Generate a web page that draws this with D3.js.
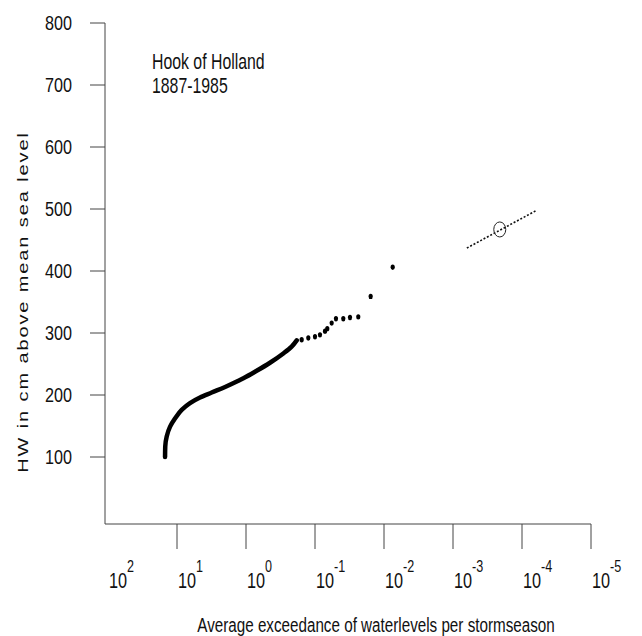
<!DOCTYPE html>
<html>
<head>
<meta charset="utf-8">
<script src="https://cdn.jsdelivr.net/npm/d3@7"></script>
<style>
  body { margin: 0; background: #fff; }
  text { font-family: "Liberation Sans", Arial, sans-serif; fill: #111; }
</style>
</head>
<body>
<div id="chart"></div>
<script>
// observed exceedance frequencies (per storm season) and high water levels (cm)
const curveFreq = [14.9, 14.8, 14.1, 12.6, 10.7, 8.55, 6.48, 4.64, 3.14, 2.01, 1.29, 1.09, 0.70, 0.449, 0.288, 0.218, 0.184];
const curveHW   = [100, 117, 133, 149, 162, 176, 187, 196, 204, 213, 223, 227, 239, 252, 267, 278, 288];

const dotFreq = [0.156, 0.125, 0.100, 0.0847, 0.0716, 0.0664, 0.0573, 0.0497, 0.0389, 0.0311, 0.0236, 0.0156, 0.00748];
const dotHW   = [289, 292, 294, 297, 303, 307, 316, 323, 323, 325, 326, 359, 406];

// extrapolated line and design point
const extraFreq = [6.3e-4, 6.1e-5];
const extraHW   = [437, 498];
const designFreq = 2.1e-4;
const designHW = 467;

const yTicks = [100, 200, 300, 400, 500, 600, 700, 800];
const xExponents = [2, 1, 0, -1, -2, -3, -4, -5];

const titleLines = ['Hook of Holland', '1887-1985'];
const xTitle = 'Average exceedance of waterlevels per stormseason';
const yTitle = 'HW in cm above mean sea level';

const width = 642, height = 636;

const svg = d3.select('#chart').append('svg')
  .attr('width', width)
  .attr('height', height);

const x = d3.scaleLog().domain([1e2, 1e-5]).range([108, 591]);
const y = d3.scaleLinear().domain([0, 800]).range([519, 23]);

const axisColor = '#444';

// y axis
svg.append('line')
  .attr('x1', 105).attr('x2', 105)
  .attr('y1', y(800)).attr('y2', 524)
  .attr('stroke', axisColor);

svg.selectAll('.ytick')
  .data(yTicks)
  .enter()
  .append('line')
  .attr('x1', 90).attr('x2', 105)
  .attr('y1', d => y(d)).attr('y2', d => y(d))
  .attr('stroke', axisColor);

svg.selectAll('.ylabel')
  .data(yTicks)
  .enter()
  .append('text')
  .attr('transform', d => 'translate(72,' + (y(d) + 7) + ') scale(0.77,1)')
  .attr('text-anchor', 'end')
  .attr('font-size', '21px')
  .text(d => d);

// x axis
svg.append('line')
  .attr('x1', 105).attr('x2', x(1e-5))
  .attr('y1', 524).attr('y2', 524)
  .attr('stroke', axisColor);

svg.selectAll('.xtick')
  .data(xExponents.filter(e => e < 2))
  .enter()
  .append('line')
  .attr('x1', d => x(Math.pow(10, d))).attr('x2', d => x(Math.pow(10, d)))
  .attr('y1', 524).attr('y2', 549)
  .attr('stroke', axisColor);

const xLabels = svg.selectAll('.xlabel')
  .data(xExponents)
  .enter()
  .append('text')
  .attr('transform', d => 'translate(' + (x(Math.pow(10, d)) + 1) + ',588) scale(0.74,1)')
  .attr('font-size', '22px');
xLabels.append('tspan').text('10');
xLabels.append('tspan')
  .attr('dy', -16)
  .attr('font-size', '17px')
  .text(d => d);

// titles
svg.selectAll('.title')
  .data(titleLines)
  .enter()
  .append('text')
  .attr('transform', (d, i) => 'translate(152,' + (69 + i * 24) + ') scale(0.72,1)')
  .attr('font-size', '22px')
  .text(d => d);

svg.append('text')
  .attr('transform', 'translate(376,632) scale(0.725,1)')
  .attr('text-anchor', 'middle')
  .attr('font-size', '21px')
  .text(xTitle);

svg.append('text')
  .attr('transform', 'translate(28,302) scale(0.75,1) rotate(-90)')
  .attr('text-anchor', 'middle')
  .attr('font-size', '20px')
  .attr('letter-spacing', '1.9px')
  .text(yTitle);

// dense part of the observations
const curve = curveFreq.map((f, i) => [f, curveHW[i]]);
svg.append('path')
  .datum(curve)
  .attr('fill', 'none')
  .attr('stroke', '#000')
  .attr('stroke-width', 4.5)
  .attr('stroke-linecap', 'round')
  .attr('stroke-linejoin', 'round')
  .attr('d', d3.line().x(d => x(d[0])).y(d => y(d[1])).curve(d3.curveMonotoneY));

// single observations
const dots = dotFreq.map((f, i) => [f, dotHW[i]]);
svg.selectAll('.dot')
  .data(dots)
  .enter()
  .append('ellipse')
  .attr('cx', d => x(d[0]))
  .attr('cy', d => y(d[1]))
  .attr('rx', 2.1)
  .attr('ry', 2.7)
  .attr('fill', '#000');

// extrapolation
const extra = extraFreq.map((f, i) => [f, extraHW[i]]);
svg.append('path')
  .datum(extra)
  .attr('fill', 'none')
  .attr('stroke', '#111')
  .attr('stroke-width', 1.6)
  .attr('stroke-dasharray', '2,1.8')
  .attr('d', d3.line().x(d => x(d[0])).y(d => y(d[1])));

svg.append('ellipse')
  .attr('cx', x(designFreq))
  .attr('cy', y(designHW))
  .attr('rx', 6)
  .attr('ry', 7.5)
  .attr('fill', 'none')
  .attr('stroke', '#222')
  .attr('stroke-width', 1);
</script>
</body>
</html>
